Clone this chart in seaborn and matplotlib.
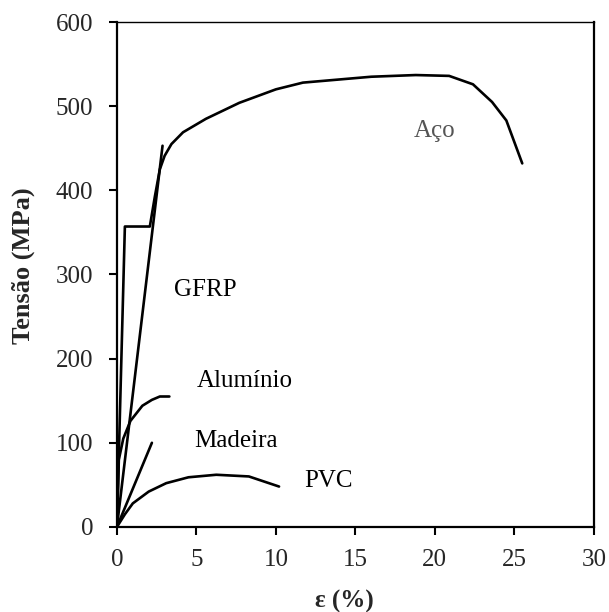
import pandas as pd
import matplotlib.pyplot as plt
import seaborn as sns

# strain (%) / stress (MPa)
ACO_X = [0, 0.5, 2.07, 2.39, 2.7, 3.0, 3.43, 4.16, 5.6, 7.7, 10.0, 11.7, 16.0, 18.8, 20.9,
         22.4, 23.6, 24.5, 25.5]
ACO_Y = [0, 357, 357, 393, 425, 441, 455, 469, 485, 504, 520, 528, 535, 537, 536,
         526, 505, 483, 432]
GFRP_X = [0, 2.87]
GFRP_Y = [0, 453]
ALU_X = [0, 0.12, 0.4, 0.85, 1.6, 2.2, 2.7, 3.3]
ALU_Y = [0, 80, 105, 126, 144, 151, 155, 155]
MAD_X = [0, 2.2]
MAD_Y = [0, 100]
PVC_X = [0, 0.5, 1.0, 2.0, 3.1, 4.5, 6.25, 8.3, 10.2]
PVC_Y = [0, 15, 28, 42, 52, 59, 62, 60, 48]

LABELS = {'Aço': (20.0, 470), 'GFRP': (5.55, 281), 'Alumínio': (8.07, 174),
          'Madeira': (7.5, 102), 'PVC': (13.34, 54)}

curves = {'Aço': (ACO_X, ACO_Y), 'GFRP': (GFRP_X, GFRP_Y), 'Alumínio': (ALU_X, ALU_Y),
          'Madeira': (MAD_X, MAD_Y), 'PVC': (PVC_X, PVC_Y)}
frames = []
for name, (xs, ys) in curves.items():
    frames.append(pd.DataFrame({'strain': xs, 'stress': ys, 'material': name}))
df = pd.concat(frames, ignore_index=True)

sns.set_style('white')
plt.rcParams['font.family'] = ['Liberation Serif', 'DejaVu Serif']

fig = plt.figure(figsize=(6.09, 6.12), dpi=100)
ax = fig.add_axes([0.192, 0.139, 0.783, 0.825])
sns.lineplot(data=df, x='strain', y='stress', hue='material', sort=False,
             palette=['black'] * len(curves), linewidth=1.9, legend=False, ax=ax,
             estimator=None)

for name, (lx, ly) in LABELS.items():
    ax.text(lx, ly, name, fontsize=18, ha='center', va='center',
            color='#555555' if name == 'Aço' else 'black')

ax.set_xlim(0, 30)
ax.set_ylim(0, 600)
ax.set_xticks(range(0, 31, 5))
ax.set_yticks(range(0, 601, 100))
ax.tick_params(axis='both', direction='out', length=6, width=1.5, labelsize=18,
               color='black', left=True, bottom=True)
ax.tick_params(axis='y', pad=11)
ax.tick_params(axis='x', pad=10)
for side in ['left', 'bottom', 'right']:
    ax.spines[side].set_linewidth(1.6)
    ax.spines[side].set_color('black')
ax.spines['top'].set_linewidth(1.0)
ax.spines['top'].set_color('black')
ax.set_xlabel('ε (%)', fontsize=18, fontweight='bold')
ax.set_ylabel('Tensão (MPa)', fontsize=19, fontweight='bold')
ax.xaxis.set_label_coords(0.477, -0.125)
ax.yaxis.set_label_coords(-0.172, 0.518)

fig.savefig('out.png', dpi=100)
